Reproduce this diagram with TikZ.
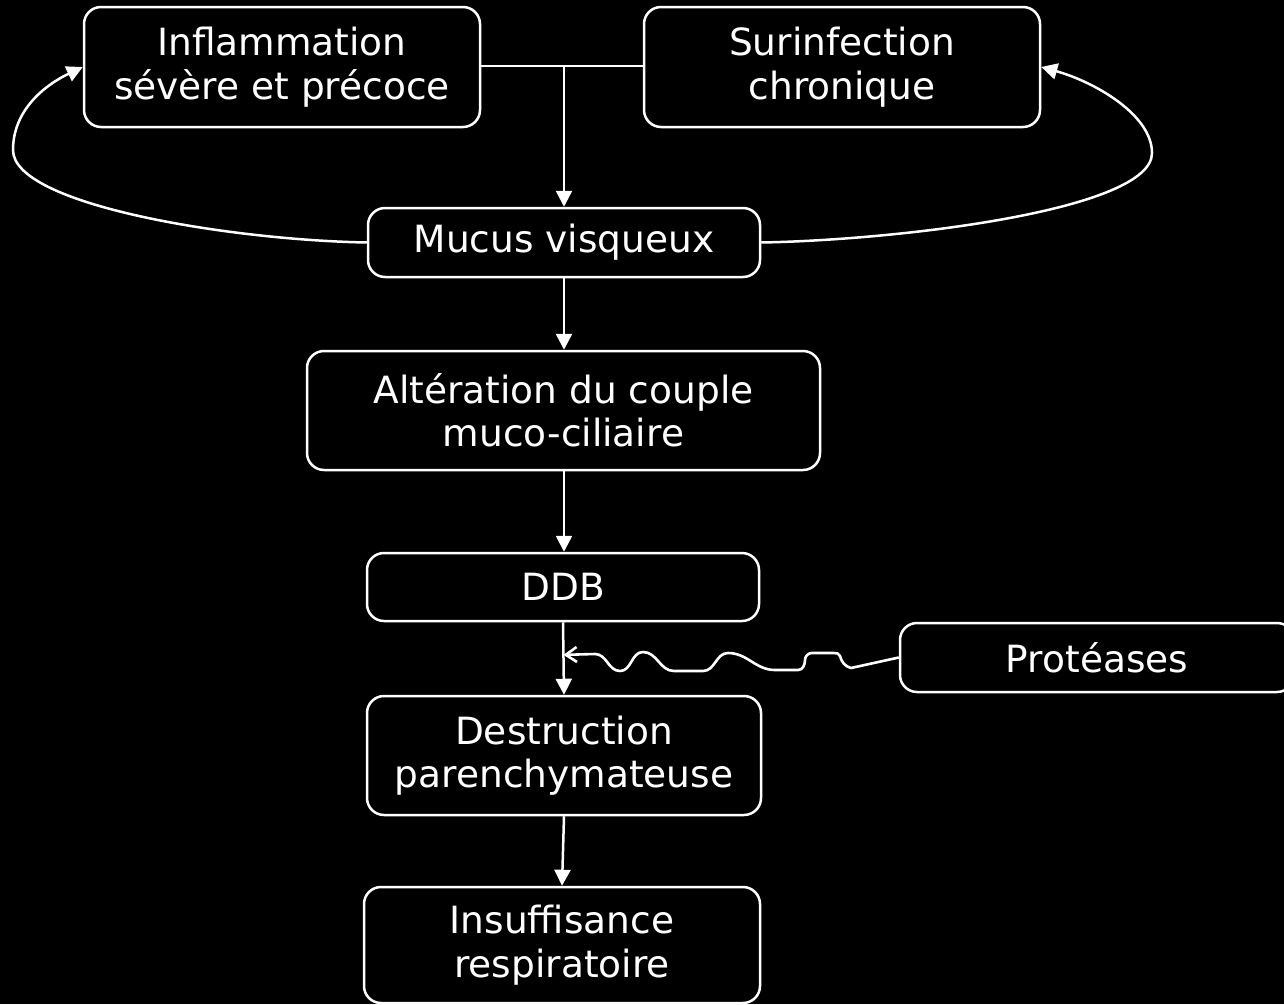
\documentclass[tikz,border=0pt]{standalone}
\usepackage{fontspec}
\setmainfont{DejaVu Sans}
\usetikzlibrary{arrows.meta,calc}
\begin{document}
\begin{tikzpicture}[x=1pt,y=-1pt,
  box/.style={draw=white, line width=2.5pt, rounded corners=17pt, text=white,
    align=center, inner sep=0pt, font=\fontsize{37.5}{43.5}\selectfont},
  conn/.style={draw=white, line width=2.5pt, -{Triangle[length=16pt,width=16pt]}},
  plain/.style={draw=white, line width=2.5pt},
  wavy/.style={draw=white, line width=2.6pt, line join=round,
    -{Straight Barb[length=11pt,width=15pt,line width=2.6pt]}}]
\fill[black] (0,0) rectangle (1284,1004);
\useasboundingbox (0,0) rectangle (1284,1004);
\clip (0,0) rectangle (1284,1004);

\node[box, minimum width=396pt, minimum height=120pt] (inf) at (282,67) {Inflammation\\sévère et précoce};
\node[box, minimum width=396pt, minimum height=120pt] (sur) at (842,67) {Surinfection\\chronique};
\node[box, minimum width=392pt, minimum height=69pt] (muc) at (564,242.5) {Mucus visqueux};
\node[box, minimum width=513pt, minimum height=119pt] (alt) at (563.5,410.5) {Altération du couple\\muco-ciliaire};
\node[box, minimum width=392pt, minimum height=68pt] (ddb) at (563,587) {DDB};
\node[box, minimum width=394pt, minimum height=69pt] (prot) at (1097,657.5) {Protéases};
\node[box, minimum width=394pt, minimum height=119pt] (dest) at (564,755.5) {Destruction\\parenchymateuse};
\node[box, minimum width=396pt, minimum height=116pt] (ins) at (562,945) {Insuffisance\\respiratoire};

% top junction
\coordinate (jn) at (564,66);
\draw[plain] (inf.east |- jn) -- (sur.west |- jn);
\draw[conn] (jn) -- (muc.north -| jn);

% feedback loops
\draw[conn] (muc.west) .. controls (230,240) and (13,205) .. (13,150)
  .. controls (13,110) and (45,85) .. (inf.west);
\draw[conn] (muc.east) .. controls (900,240) and (1152,210) .. (1152,153)
  .. controls (1152,115) and (1095,82) .. (sur.east);

% main chain
\draw[conn] (muc.south -| jn) -- (alt.north -| jn);
\draw[conn] (alt.south -| jn) -- (ddb.north -| jn);
\draw[conn] (ddb.south) -- (dest.north);
\draw[conn] (dest.south) -- (ins.north);

% proteases wavy arrow
\coordinate (hit) at ($(ddb.south)!0.45!(dest.north)$);
\draw[wavy] (prot.west) -- (851,668) to[out=165,in=-75] (840,656)
  to[out=105,in=0] (834,653) -- (812,653)
  to[out=180,in=90] (805,660) to[out=-90,in=0] (798,670) -- (775,670)
  to[out=180,in=0] (728,653) to[out=180,in=0] (703,671) -- (674,671)
  to[out=180,in=0] (643,652) to[out=180,in=0] (620,671)
  to[out=180,in=0] (595,654) -- (hit);
\end{tikzpicture}
\end{document}
